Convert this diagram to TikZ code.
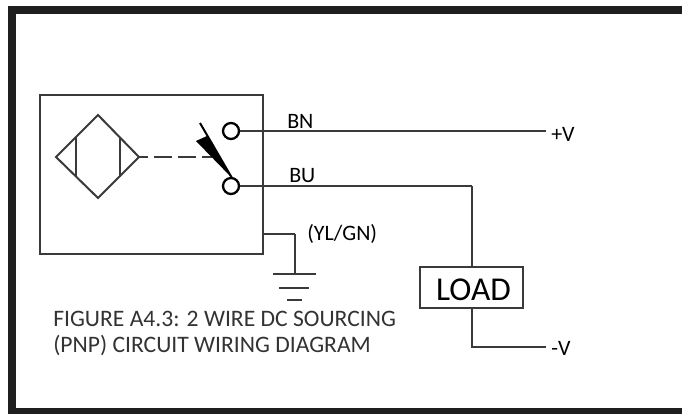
\documentclass[tikz,border=0pt]{standalone}
\usepackage{fontspec}
\setmainfont{Carlito}
\definecolor{wirecol}{HTML}{3A3A3A}
\definecolor{labelcol}{HTML}{333333}
\tikzset{
  wire/.style={color=wirecol,line width=1.5pt},
  thinwire/.style={color=wirecol,line width=1.2pt},
  terminal/.style={circle,draw=black,line width=1.7pt,fill=white,minimum size=12pt,inner sep=0pt},
  wirelabel/.style={color=black,font=\fontsize{16.5}{20}\selectfont,inner sep=0pt},
  caption/.style={color=labelcol,font=\fontsize{17.7}{22}\selectfont,align=left,inner sep=0pt}
}
\begin{document}
\begin{tikzpicture}[x=0.75pt,y=-0.75pt]
  \useasboundingbox (0,0) rectangle (682,414);
  \fill[white] (0,0) rectangle (682,414);
  \draw[color=black!88,line width=6pt,line cap=butt] (682,10) -- (11.5,10) -- (11.5,412) -- (682,412);
  \path (40,95) coordinate (BoxNW);
  \path (263,254) coordinate (BoxSE);
  \path (263,234) coordinate (E1);
  \path (295,234) coordinate (E2);
  \path (295,274) coordinate (E3);
  \path (273,274) coordinate (G1a);
  \path (316,274) coordinate (G1b);
  \path (279,288) coordinate (G2a);
  \path (309,288) coordinate (G2b);
  \path (287,300) coordinate (G3a);
  \path (302,300) coordinate (G3b);
  \path (56,157) coordinate (DW);
  \path (98,115) coordinate (DN);
  \path (139,157) coordinate (DE);
  \path (98,198) coordinate (DS);
  \path (76,137) coordinate (L1);
  \path (76,177) coordinate (L2);
  \path (120,138) coordinate (R1);
  \path (120,177) coordinate (R2);
  \path (212,157) coordinate (DashEnd);
  \path (200,123) coordinate (BladeTop);
  \path (232,178) coordinate (BladeTip);
  \path (196,141) coordinate (BladeBack);
  \path (207,136) coordinate (BladeJoin);
  \path (546,131) coordinate (PlusEnd);
  \path (471.5,186) coordinate (BUCorner);
  \path (471.5,347) coordinate (MinusCorner);
  \path (546,347) coordinate (MinusEnd);
  \draw[wire] (BoxNW) rectangle (BoxSE);
  \draw[wire,line join=miter] (DW) -- (DN) -- (DE) -- (DS) -- cycle;
  \draw[wire] (L1) -- (L2) (R1) -- (R2);
  \draw[wire,dash pattern=on 13.5pt off 4.5pt,dash phase=6.5pt] (DE) -- (DashEnd);
  \node[terminal] (T1) at (231,131) {};
  \node[terminal] (T2) at (231,186) {};
  \node[draw=wirecol,line width=1.8pt,fill=white,minimum width=77pt,minimum height=30.5pt,inner sep=0pt,font=\fontsize{25}{30}\selectfont] (Load) at (471.5,287.5) {\hspace{3pt}\raisebox{-10pt}[0pt][0pt]{LOAD}};
  \fill[black] (BladeBack) -- (BladeJoin) -- (BladeTip) -- cycle;
  \draw[black,line width=1.5pt] (BladeTop) -- (BladeTip);
  \draw[thinwire] (T1) -- (PlusEnd);
  \draw[thinwire] (T2) -- (BUCorner);
  \draw[wire] (BUCorner) -- (Load.north -| BUCorner);
  \draw[wire] (Load.south -| MinusCorner) -- (MinusCorner) -- (MinusEnd);
  \draw[thinwire] (E1) -- (E2);
  \draw[wire] (E2) -- (E3);
  \draw[thinwire] (G1a) -- (G1b);
  \draw[wire] (G2a) -- (G2b);
  \draw[wire] (G3a) -- (G3b);
  \node[wirelabel,anchor=base west] (BNLabel) at (287,128) {BN};
  \node[wirelabel,anchor=base west] (BULabel) at (289,182) {BU};
  \node[wirelabel,anchor=base west] (PlusLabel) at (551,141) {+V};
  \node[wirelabel,anchor=base west] (MinusLabel) at (551,355) {-V};
  \node[wirelabel,anchor=base west] (EarthLabel) at (307,240) {(YL/GN)};
  \node[caption,anchor=base west] (CapOne) at (53,326) {FIGURE A4.3: 2 WIRE DC SOURCING};
  \node[caption,anchor=base west] (CapTwo) at (53,352) {(PNP) CIRCUIT WIRING DIAGRAM};
\end{tikzpicture}
\end{document}
